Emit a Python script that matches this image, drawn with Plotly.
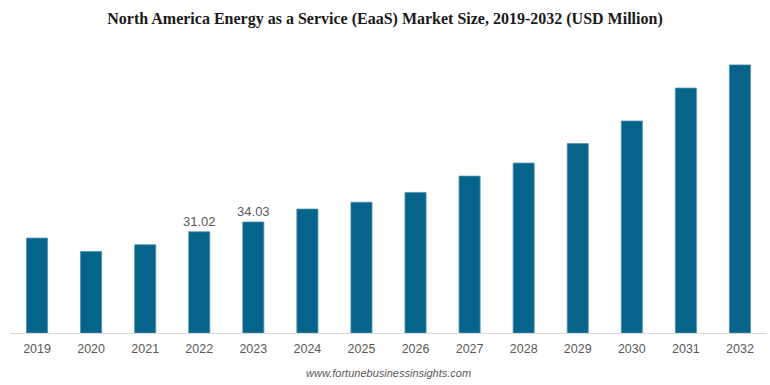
import plotly.graph_objects as go

years = ["2019", "2020", "2021", "2022", "2023", "2024", "2025", "2026",
         "2027", "2028", "2029", "2030", "2031", "2032"]
values = [29.1, 25.0, 27.05, 31.02, 34.03, 38.0, 40.1, 43.1,
          48.1, 52.1, 58.1, 65.0, 75.1, 82.2]
labels = ["", "", "", "31.02", "34.03", "", "", "", "", "", "", "", "", ""]

fig = go.Figure()
fig.add_trace(go.Bar(
    x=years, y=values,
    text=labels, textposition="outside", cliponaxis=False,
    constraintext="none",
    textfont=dict(family="Liberation Sans, Arial", size=13, color="#595959"),
    marker=dict(color="#06648A", line=dict(color="#4f91ae", width=0.8)),
    hoverinfo="x+y",
))

fig.update_layout(
    width=770, height=385,
    margin=dict(l=10, r=3, t=45, b=52),
    paper_bgcolor="white", plot_bgcolor="white",
    bargap=0.61,
    showlegend=False,
    title=dict(
        text="<b>North America Energy as a Service (EaaS) Market Size, 2019-2032 (USD Million)</b>",
        x=0.5, xanchor="center", y=0.953, yanchor="middle",
        font=dict(family="Liberation Serif, Times New Roman", size=16, color="#1a1a1a"),
    ),
    xaxis=dict(
        showline=True, linecolor="#d9d9d9", linewidth=1,
        ticks="", showgrid=False, ticklabelstandoff=4,
        tickfont=dict(family="Liberation Sans, Arial", size=12.5, color="#595959"),
    ),
    yaxis=dict(range=[0, 88.3], visible=False, showgrid=False, zeroline=False),
    annotations=[dict(
        text="<i>www.fortunebusinessinsights.com</i>",
        x=0.5, xref="paper", xanchor="center",
        y=0, yref="paper", yanchor="middle", yshift=-40,
        showarrow=False,
        font=dict(family="Liberation Sans, Arial", size=11, color="#595959"),
    )],
)

fig.write_html("out.html")
